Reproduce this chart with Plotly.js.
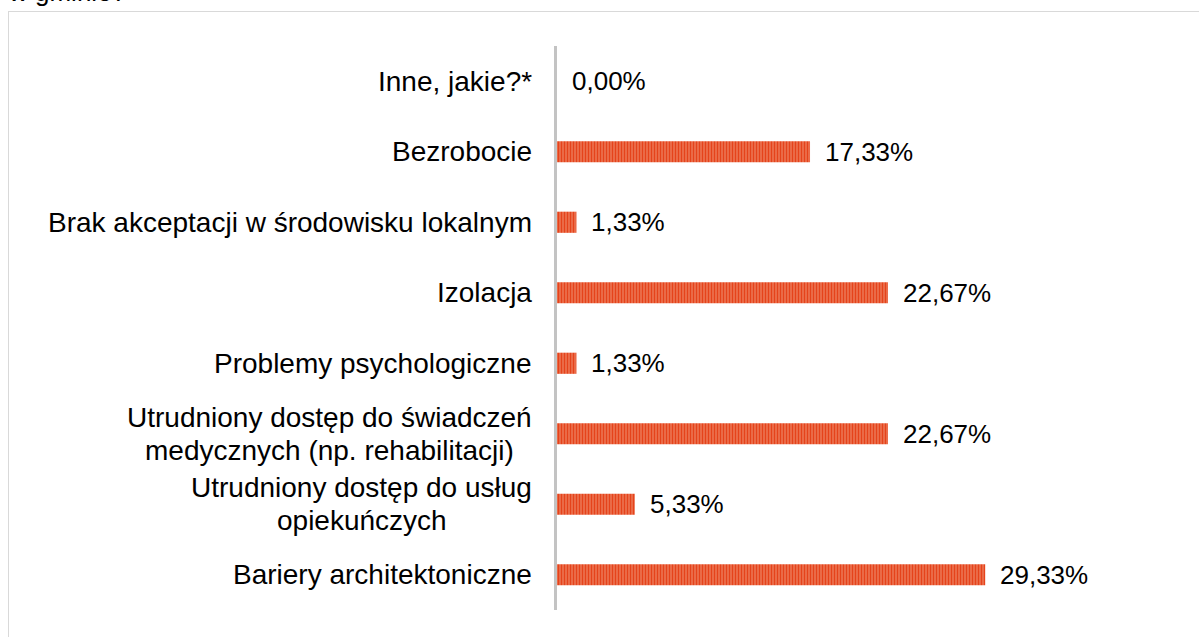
<!DOCTYPE html>
<html>
<head>
<meta charset="utf-8">
<script src="https://cdn.plot.ly/plotly-3.0.1.min.js"></script>
<style>
  html, body { margin: 0; padding: 0; background: #ffffff; overflow: hidden; }
  #frame { position: absolute; left: 8px; top: 11px; width: 1400px; height: 900px;
           border: 1.5px solid #d9d9d9; box-sizing: border-box; pointer-events: none; }
  #chart { position: absolute; left: 0; top: 0; width: 1199px; height: 637px; }
</style>
</head>
<body>
<div id="frame"></div>
<div id="chart"></div>
<script>
// Data (top-to-bottom order as shown)
const categories = [
  "Inne, jakie?*",
  "Bezrobocie",
  "Brak akceptacji w środowisku lokalnym",
  "Izolacja",
  "Problemy psychologiczne",
  "Utrudniony dostęp do świadczeń<br>medycznych (np. rehabilitacji)",
  "Utrudniony dostęp do usług<br>opiekuńczych",
  "Bariery architektoniczne"
];
const values = [0.00, 17.33, 1.33, 22.67, 1.33, 22.67, 5.33, 29.33];
const titleTail = "w gminie?";

const fmt = v => v.toFixed(2).replace('.', ',') + '%';
const FONT = 'Arial, "Liberation Sans", sans-serif';
const LABEL_SIZE = 28;
const VALUE_SIZE = 26;
const LINE_GAP = 33;

const ctx = document.createElement('canvas').getContext('2d');
ctx.font = LABEL_SIZE + 'px "Liberation Sans", Arial, sans-serif';

const trace = {
  type: 'bar',
  orientation: 'h',
  y: categories,
  x: values,
  width: 0.30,
  marker: {
    color: '#E84E26',
    line: { width: 0 },
    pattern: { shape: '|', bgcolor: '#F29A7C', fgcolor: '#E5431B', size: 3, solidity: 0.7, fillmode: 'replace' }
  },
  hoverinfo: 'skip'
};

const annotations = [];
categories.forEach((c, i) => {
  const lines = c.split('<br>');
  const maxW = Math.max(...lines.map(l => ctx.measureText(l).width));
  lines.forEach((line, k) => {
    annotations.push({
      xref: 'paper', yref: 'y', x: 0, y: c,
      xanchor: 'center', yanchor: 'middle',
      xshift: -25 - maxW / 2,
      yshift: -(k - (lines.length - 1) / 2) * LINE_GAP,
      text: line, showarrow: false, align: 'center',
      font: { family: FONT, size: LABEL_SIZE, color: '#000000' }
    });
  });
  annotations.push({
    xref: 'x', yref: 'y', x: values[i], y: c,
    xanchor: 'left', yanchor: 'middle', xshift: 13,
    text: fmt(values[i]), showarrow: false,
    font: { family: FONT, size: VALUE_SIZE, color: '#000000' }
  });
});
annotations.push({
  xref: 'paper', yref: 'paper', x: 0, y: 1,
  xanchor: 'left', yanchor: 'bottom', xshift: -551, yshift: 37,
  text: titleTail, showarrow: false,
  font: { family: FONT, size: VALUE_SIZE, color: '#000000' }
});

const layout = {
  width: 1199, height: 637,
  margin: { l: 557, r: 58, t: 46, b: 27, pad: 0 },
  paper_bgcolor: 'rgba(0,0,0,0)',
  plot_bgcolor: 'rgba(0,0,0,0)',
  showlegend: false,
  font: { family: FONT, size: 26, color: '#000000' },
  xaxis: { range: [0, 40], visible: false, fixedrange: true },
  yaxis: {
    type: 'category', autorange: 'reversed', range: [7.5, -0.5],
    showticklabels: false, ticks: '', showgrid: false, zeroline: false,
    showline: true, linecolor: '#c3c3c3', linewidth: 3, fixedrange: true
  },
  annotations: annotations
};

Plotly.newPlot('chart', [trace], layout, { displayModeBar: false, staticPlot: true });
</script>
</body>
</html>
